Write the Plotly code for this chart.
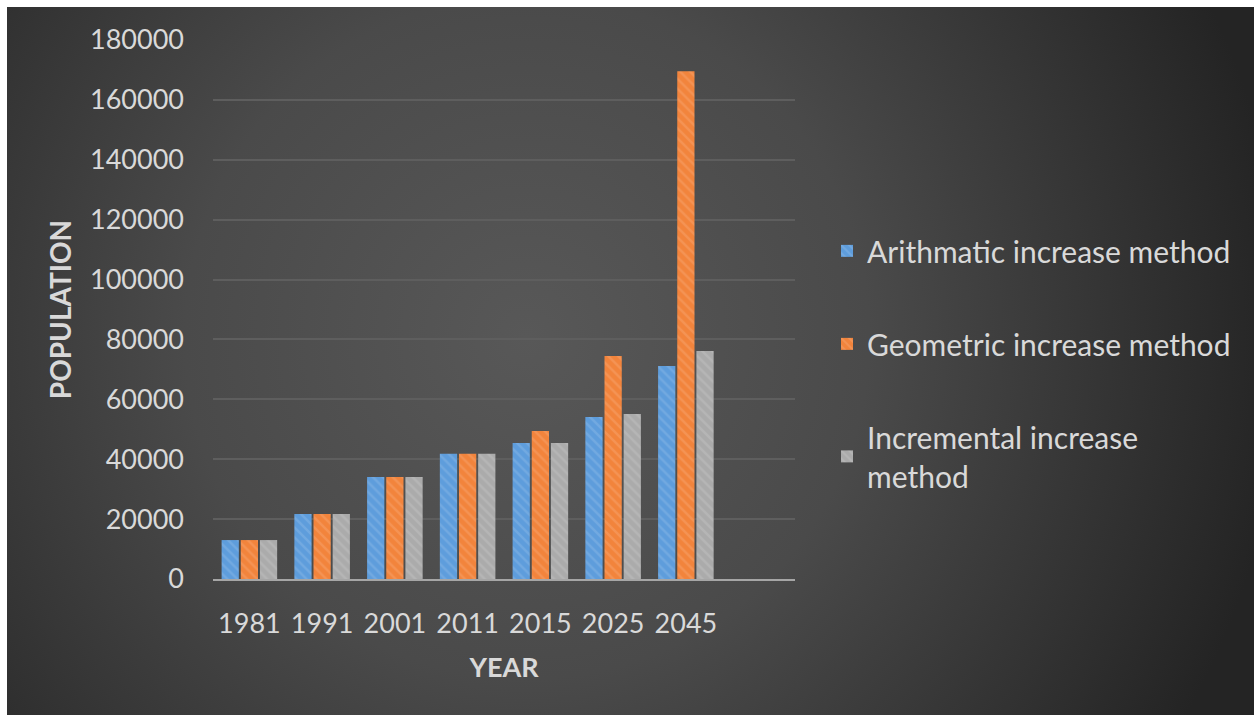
import base64
import plotly.graph_objects as go

years = ["1981", "1991", "2001", "2011", "2015", "2025", "2045"]
arithmetic = [13000, 21700, 34100, 41800, 45400, 54100, 71100]
geometric = [13000, 21700, 34100, 41800, 49400, 74500, 169600]
incremental = [13000, 21700, 34100, 41800, 45400, 55100, 76100]
series_names = ["Arithmatic increase method", "Geometric increase method",
                "Incremental increase<br>method"]
colors = ["#5e9ddc", "#f2843c", "#ababab"]

W, H = 1258, 715
L, R, T, B = 213, 463, 40, 136
pw, ph = W - L - R, H - T - B

svg = f'''<svg xmlns="http://www.w3.org/2000/svg" width="1247" height="708" viewBox="0 0 1247 708">
<defs><radialGradient id="g" gradientUnits="userSpaceOnUse" cx="520" cy="330" r="760">
<stop offset="0" stop-color="#585858"/><stop offset="0.45" stop-color="#4a4a4a"/>
<stop offset="1" stop-color="#242424"/></radialGradient></defs>
<rect width="1247" height="708" fill="url(#g)"/></svg>'''
src = "data:image/svg+xml;base64," + base64.b64encode(svg.encode()).decode()

font = "Lato"
txt = "#d9d9d9"

fig = go.Figure()
for name, vals, c in zip(series_names, [arithmetic, geometric, incremental], colors):
    fig.add_trace(go.Bar(
        x=years, y=vals, name=name, legendgroup=name,
        marker=dict(color=c, line=dict(width=0),
                    pattern=dict(shape="\\", fgcolor="#ffffff", fgopacity=0.12,
                                 size=7, solidity=0.35)),
    ))

fig.update_layout(
    width=W, height=H,
    margin=dict(l=L, r=R, t=T, b=B),
    paper_bgcolor="white", plot_bgcolor="rgba(0,0,0,0)",
    barmode="group", bargap=0.21, bargroupgap=0.1,
    font=dict(family=font, color=txt, size=27),
    showlegend=True,
    legend=dict(x=1.055, y=0.657, xanchor="left", yanchor="top",
                font=dict(size=30, color=txt), tracegroupgap=51,
                itemwidth=30, bgcolor="rgba(0,0,0,0)"),
    images=[dict(source=src, xref="paper", yref="paper",
                 x=(7 - L) / pw, y=1 + (T - 7) / ph,
                 sizex=1247 / pw, sizey=708 / ph,
                 xanchor="left", yanchor="top", sizing="stretch", layer="below")],
    xaxis=dict(type="category", range=[-0.5, 7.5], showgrid=False,
               showline=True, linecolor="#a6a6a6", linewidth=2,
               ticks="", ticklabelstandoff=20,
               tickfont=dict(size=27, color=txt),
               title=dict(text="<b>YEAR</b>", font=dict(size=27, color=txt), standoff=20)),
    yaxis=dict(range=[0, 180000], dtick=20000, showgrid=True,
               gridcolor="#5e5e5e", gridwidth=1.5, zeroline=False,
               showline=False, ticks="", ticklabelstandoff=28,
               tickformat="d", tickfont=dict(size=27, color=txt),
               title=dict(text="<b>POPULATION</b>", font=dict(size=28, color=txt), standoff=10)),
)

fig.write_html("out.html")
